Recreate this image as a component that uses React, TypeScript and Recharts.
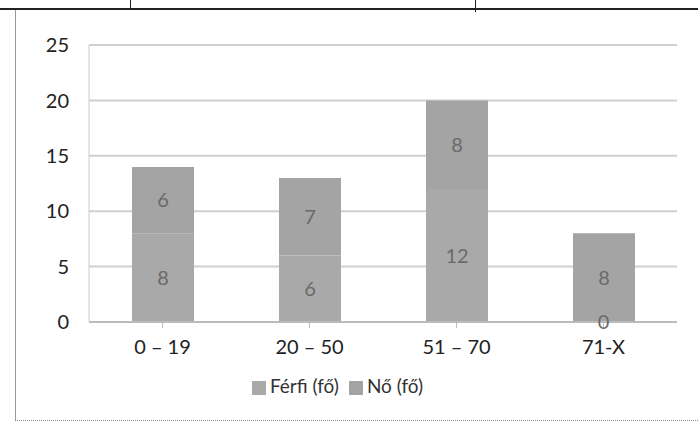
import { BarChart, Bar, XAxis, YAxis, CartesianGrid, Legend, LabelList, ReferenceDot } from "recharts";

const categories = ["0 – 19", "20 – 50", "51 – 70", "71-X"];
const ferfi = [8, 6, 12, 0];
const no = [6, 7, 8, 8];
const yTicks = [0, 5, 10, 15, 20, 25];

const data = categories.map((c, i) => ({ name: c, ferfi: ferfi[i], no: no[i] }));

const FONT = "Lato, 'Open Sans', sans-serif";

const labelStyle = { fill: "#6a6a6a", fontSize: 20, fontFamily: FONT };

export default function App() {
  return (
    <div style={{ position: "absolute", left: 0, top: 0, width: 698, height: 441, background: "#fff", overflow: "hidden", fontFamily: FONT }}>
      {/* scan frame */}
      <div style={{ position: "absolute", left: 0, top: 8, width: 698, height: 2, background: "#222" }} />
      <div style={{ position: "absolute", left: 130, top: 0, width: 1, height: 9, background: "#222" }} />
      <div style={{ position: "absolute", left: 475, top: 0, width: 1, height: 12, background: "#222" }} />
      <div style={{ position: "absolute", left: 15, top: 10, width: 1, height: 410, background: "#999" }} />
      <div style={{ position: "absolute", left: 15, top: 420, width: 683, height: 0, borderTop: "1px dotted #888" }} />
      <div style={{ position: "absolute", left: 0, top: 0 }}>
        <BarChart width={698} height={441} data={data} margin={{ top: 45, right: 21, bottom: 0, left: 8 }} barCategoryGap={0}>
          <CartesianGrid vertical={false} stroke="#cfcfcf" strokeWidth={2} />
          <XAxis
            dataKey="name"
            tick={{ fill: "#222", fontSize: 20, fontFamily: FONT }}
            tickLine={{ stroke: "#bbb" }}
            axisLine={{ stroke: "#bbb", strokeWidth: 2 }}
            tickMargin={12}
            height={46}
          />
          <YAxis
            domain={[0, 25]}
            ticks={yTicks}
            width={81}
            tick={{ fill: "#222", fontSize: 20, fontFamily: FONT }}
            tickLine={false}
            axisLine={{ stroke: "#ccc" }}
            tickMargin={14}
          />
          <Legend
            verticalAlign="bottom"
            iconType="square"
            iconSize={14}
            wrapperStyle={{ paddingTop: 6, paddingBottom: 44, fontSize: 19, fontFamily: FONT }}
            formatter={(v) => <span style={{ color: "#333" }}>{v}</span>}
          />
          <Bar dataKey="ferfi" name="Férfi (fő)" stackId="a" fill="#a9a9a9" barSize={62} isAnimationActive={false}>
            <LabelList dataKey="ferfi" position="center" {...labelStyle} />
          </Bar>
          <Bar dataKey="no" name="Nő (fő)" stackId="a" fill="#a4a4a4" barSize={62} isAnimationActive={false}>
            <LabelList dataKey="no" position="center" {...labelStyle} />
          </Bar>
          {/* empty segments still show their 0 label, as in the original */}
          {data
            .filter((d) => d.ferfi === 0)
            .map((d) => (
              <ReferenceDot
                key={d.name}
                x={d.name}
                y={0}
                r={0}
                fill="none"
                stroke="none"
                ifOverflow="visible"
                label={{ value: d.ferfi, position: "center", ...labelStyle }}
              />
            ))}
        </BarChart>
      </div>
    </div>
  );
}
